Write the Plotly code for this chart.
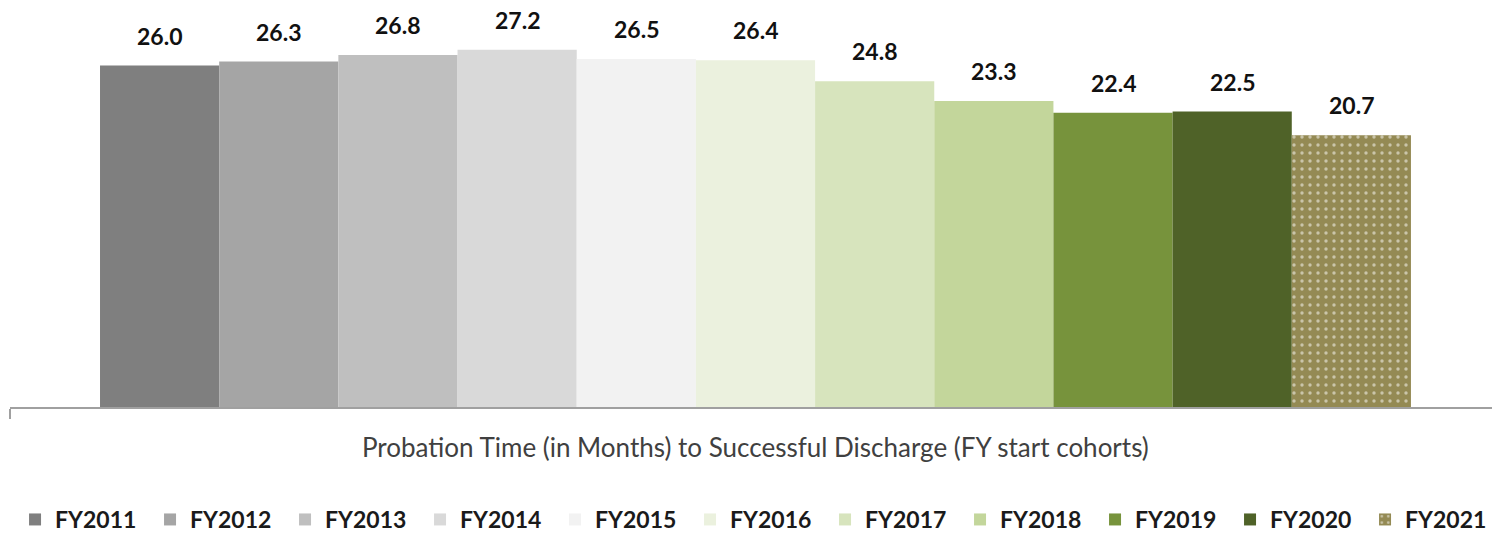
import plotly.graph_objects as go

cohorts = ["FY2011", "FY2012", "FY2013", "FY2014", "FY2015", "FY2016",
           "FY2017", "FY2018", "FY2019", "FY2020", "FY2021"]
months = [26.0, 26.3, 26.8, 27.2, 26.5, 26.4, 24.8, 23.3, 22.4, 22.5, 20.7]
colors = ["#7f7f7f", "#a5a5a5", "#bfbfbf", "#d9d9d9", "#f2f2f2", "#ebf1de",
          "#d7e4bd", "#c3d69b", "#77933c", "#4f6228", "#948a54"]
axis_title = "Probation Time (in Months) to Successful Discharge (FY start cohorts)"

FONT = "Lato"
n = len(cohorts)

fig = go.Figure()
for i, (name, val, col) in enumerate(zip(cohorts, months, colors)):
    marker = dict(color=col, line=dict(width=0))
    if i == n - 1:
        marker["pattern"] = dict(shape=".", fgcolor="#ffffff", bgcolor=col,
                                 size=8, solidity=0.14, fillmode="overlay")
    fig.add_trace(go.Bar(x=[i], y=[val], name=name, width=1.0, marker=marker,
                         hoverinfo="name+y"))
    fig.add_annotation(x=i, y=val, text=f"{val:.1f}", showarrow=False,
                       yanchor="bottom", yshift=14,
                       font=dict(family=FONT, size=23, color="#111111", weight="bold"))

fig.add_annotation(x=(n - 1) / 2, y=0, yref="paper", text=axis_title,
                   showarrow=False, yanchor="middle", yshift=-40,
                   font=dict(family=FONT, size=26, color="#404040"))

xmin, xmax = -1.2553, 11.18
fig.update_layout(
    width=1493, height=534,
    margin=dict(l=10, r=1, t=13, b=127, autoexpand=False),
    paper_bgcolor="white", plot_bgcolor="white",
    barmode="overlay",
    showlegend=True,
    legend=dict(orientation="h", x=0.0034, xanchor="left",
                yref="container", y=0.0674, yanchor="top",
                font=dict(family=FONT, size=23, color="#1a1a1a", weight="bold"),
                entrywidthmode="pixels", entrywidth=90, itemwidth=30,
                traceorder="normal"),
    xaxis=dict(range=[xmin, xmax], showgrid=False, zeroline=False,
               showline=True, linecolor="#a0a0a0", linewidth=2,
               tickvals=[xmin], ticks="outside", ticklen=10, tickwidth=2,
               tickcolor="#a0a0a0", showticklabels=False, fixedrange=True),
    yaxis=dict(range=[0, 30], visible=False, fixedrange=True),
)

fig.write_html("out.html", config={"displayModeBar": False},
               post_script="document.body.style.margin='0';document.body.style.overflow='hidden';")
